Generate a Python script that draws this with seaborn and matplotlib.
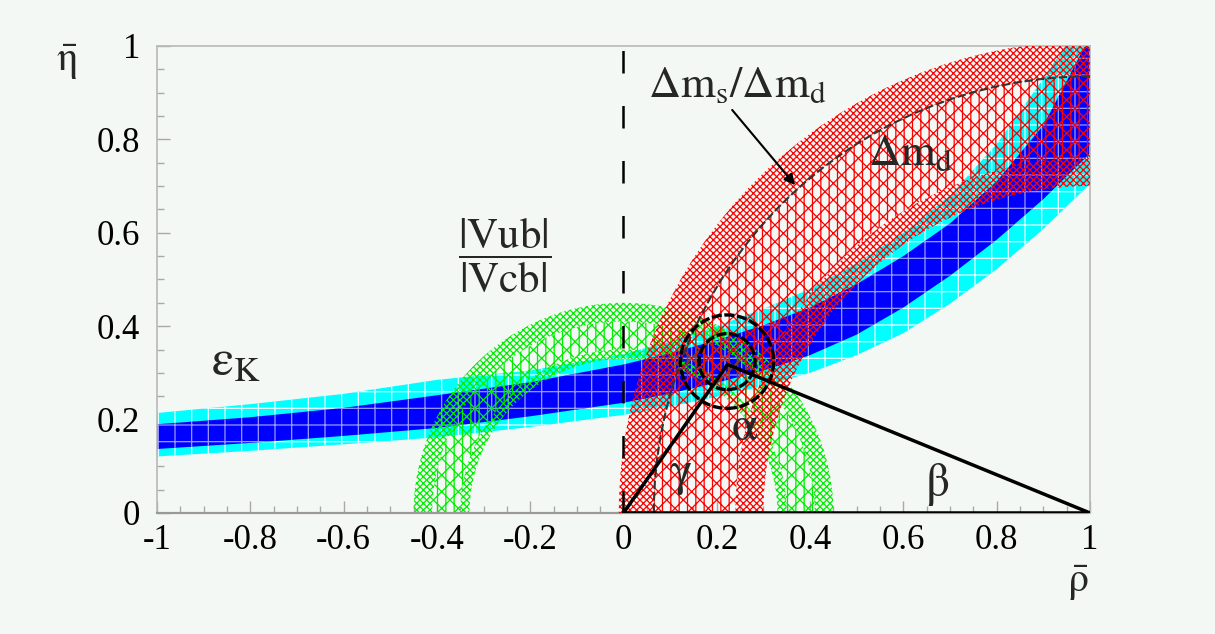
import matplotlib
matplotlib.use("Agg")
import matplotlib.pyplot as plt
from matplotlib.patches import Wedge, Circle, Arc
from matplotlib.ticker import MultipleLocator, FuncFormatter
import seaborn as sns

# epsilon_K band (hyperbola) read along rho-bar: 68% (blue) and 95% (cyan) edges
rho_ek = [-1.0, -0.8, -0.6, -0.4, -0.2, 0.0, 0.1, 0.2, 0.3, 0.4, 0.5, 0.6, 0.7, 0.8, 0.9, 1.0]
ek_in_lo = [0.137, 0.150, 0.165, 0.182, 0.207, 0.236, 0.256, 0.279, 0.305, 0.338, 0.382, 0.440,
            0.508, 0.585, 0.672, 0.770]
ek_in_hi = [0.190, 0.205, 0.225, 0.252, 0.280, 0.318, 0.342, 0.370, 0.402, 0.440, 0.490, 0.550,
            0.620, 0.710, 0.830, 1.020]
ek_out_lo = [0.121, 0.133, 0.147, 0.162, 0.184, 0.210, 0.228, 0.249, 0.272, 0.300, 0.338, 0.385,
             0.448, 0.522, 0.608, 0.705]
ek_out_hi = [0.214, 0.233, 0.255, 0.285, 0.305, 0.340, 0.368, 0.400, 0.437, 0.480, 0.535, 0.600,
             0.680, 0.790, 0.930, 1.080]

# |Vub|/|Vcb| circles around (0,0)
vub_center = (0.0, 0.0)
vub_r68 = [0.35, 0.41]
vub_r95 = [0.33, 0.45]

# delta m_d circles around (1,0), delta m_s/delta m_d limit
dmd_center = (1.0, 0.0)
dmd_r68 = [0.76, 0.935]
dmd_r95 = [0.70, 1.01]
dms_limit = 0.935

# unitarity triangle and fit contours
tri_rho = [0.0, 0.223, 1.0, 0.0]
tri_eta = [0.0, 0.318, 0.0, 0.0]
fit_center = (0.222, 0.324)
fit_radii = [0.06, 0.10]

sns.set_style("ticks")
plt.rcParams['font.family'] = ['Liberation Serif', 'DejaVu Serif']
plt.rcParams['mathtext.fontset'] = 'stix'
plt.rcParams['hatch.linewidth'] = 0.9

bg = '#f4f8f5'
fig = plt.figure(figsize=(12.15, 6.34), dpi=100, facecolor=bg)
ax = fig.add_axes([0.1292, 0.1909, 0.7679, 0.7366], facecolor=bg)

# epsilon_K bands
ax.fill_between(rho_ek, ek_out_lo, ek_out_hi, facecolor='#00ffff', edgecolor='#e8ffff',
                hatch='+', linewidth=0, zorder=1)
ax.fill_between(rho_ek, ek_in_lo, ek_in_hi, facecolor='#0000ff', edgecolor='#9a9aff',
                hatch='+', linewidth=0, zorder=1.1)


def ring(center, r_in, r_out, t1, t2, color, hatch, z):
    ax.add_patch(Wedge(center, r_out, t1, t2, width=r_out - r_in, facecolor='none',
                       edgecolor=color, hatch=hatch, linewidth=0, zorder=z))


# |Vub|/|Vcb| : dense 95% edges, sparse 68% core
ring(vub_center, vub_r95[0], vub_r68[0], 0, 180, '#00ee00', 'xxxxx', 2)
ring(vub_center, vub_r68[1], vub_r95[1], 0, 180, '#00ee00', 'xxxxx', 2)
ring(vub_center, vub_r68[0], vub_r68[1], 0, 180, '#00ee00', 'xx||', 2)

# delta m_d
ring(dmd_center, dmd_r95[0], dmd_r68[0], 90, 180, '#ff0000', 'xxxxx', 3)
ring(dmd_center, dmd_r68[1], dmd_r95[1], 90, 180, '#ff0000', 'xxxxx', 3)
ring(dmd_center, dmd_r68[0], dmd_r68[1], 90, 180, '#ff0000', 'xx||', 3)

# delta m_s / delta m_d limit
ax.add_patch(Arc(dmd_center, 2 * dms_limit, 2 * dms_limit, theta1=90, theta2=180,
                 color='#333333', lw=1.5, ls=(0, (4, 1.5)), zorder=5))

# rho = 0 dashed line
ax.axvline(0, color='black', lw=1.8, ls=(0, (9, 13)), zorder=5)

# fit contours
for r in fit_radii:
    ax.add_patch(Circle(fit_center, r, fill=False, ec='black', lw=2.4,
                        ls=(0, (3, 0.8)), zorder=6))

# triangle
sns.lineplot(x=tri_rho, y=tri_eta, sort=False, estimator=None, color='black',
             lw=2.5, ax=ax, zorder=7)

# arrow to the delta m_s/delta m_d line
ax.annotate('', xy=(0.368, 0.702), xytext=(0.233, 0.863),
            arrowprops=dict(arrowstyle='-|>', color='black', lw=1.5,
                            mutation_scale=16, shrinkA=0, shrinkB=0), zorder=8)

ax.set_xlim(-1, 1)
ax.set_ylim(0, 1)
ax.xaxis.set_major_locator(MultipleLocator(0.2))
ax.xaxis.set_minor_locator(MultipleLocator(0.05))
ax.yaxis.set_major_locator(MultipleLocator(0.2))
ax.yaxis.set_minor_locator(MultipleLocator(0.05))


def fmt(v, pos):
    s = f'{round(v, 2):g}'
    return '0' if s == '-0' else s


ax.xaxis.set_major_formatter(FuncFormatter(fmt))
ax.yaxis.set_major_formatter(FuncFormatter(fmt))
ax.tick_params(which='both', direction='in', colors='#a8a8a8', labelcolor='black',
               labelsize=25, top=False, right=False, width=1)
ax.tick_params(which='major', length=9)
ax.tick_params(which='minor', length=5)
ax.tick_params(axis='y', pad=12)
ax.tick_params(axis='x', pad=8)

for s in ['left', 'right', 'top']:
    ax.spines[s].set_color('#b8b8b8')
    ax.spines[s].set_linewidth(1.2)
ax.spines['bottom'].set_color('#999999')
ax.spines['bottom'].set_linestyle((0, (1, 1)))
ax.spines['bottom'].set_linewidth(1.6)
ax.set_xlabel('')
ax.set_ylabel('')

# axis titles
ax.text(-0.0965, 0.964, r'$\mathrm{\bar{\eta}}$', transform=ax.transAxes,
        fontsize=30, ha='center', va='center')
ax.text(0.987, -0.15, r'$\mathrm{\bar{\rho}}$', transform=ax.transAxes,
        fontsize=30, ha='center', va='center')

# constraint labels
ax.text(0.0525, 0.891, r'$\mathrm{\Delta m_s/\Delta m_d}$', fontsize=32,
        ha='left', va='baseline', zorder=9)
ax.text(0.524, 0.745, r'$\mathrm{\Delta m_d}$', fontsize=32,
        ha='left', va='baseline', zorder=9)
ax.text(-0.884, 0.295, r'$\mathrm{\varepsilon_K}$', fontsize=36,
        ha='left', va='baseline', zorder=9)
ax.text(-0.254, 0.552, r'$\dfrac{|\mathrm{Vub}|}{|\mathrm{Vcb}|}$', fontsize=31,
        ha='center', va='center', zorder=9)
ax.text(0.123, 0.08, r'$\mathrm{\gamma}$', fontsize=34, ha='center', va='center', zorder=9)
ax.text(0.26, 0.18, r'$\mathrm{\alpha}$', fontsize=34, ha='center', va='center', zorder=9)
ax.text(0.672, 0.062, r'$\mathrm{\beta}$', fontsize=34, ha='center', va='center', zorder=9)

fig.savefig('out.png', dpi=100, facecolor=bg)
